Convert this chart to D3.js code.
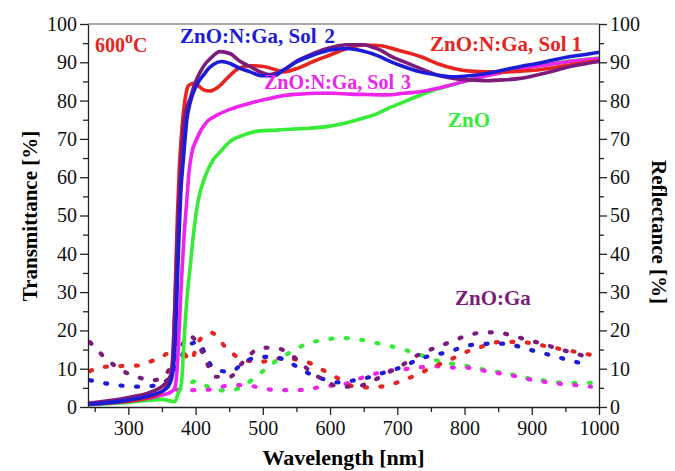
<!DOCTYPE html>
<html>
<head>
<meta charset="utf-8">
<script src="https://cdn.jsdelivr.net/npm/d3@7/dist/d3.min.js"></script>
<style>
  html, body { margin: 0; padding: 0; background: #fff; }
  svg { display: block; font-family: "Liberation Serif", "Times New Roman", serif; }
</style>
</head>
<body>
<svg id="chart" width="675" height="471"></svg>
<script>
// Transmittance spectra (solid) — [wavelength nm, T %]
const tSol1 = [[240,0.8],[300,1.5],[340,3],[358,5.5],[364,9],[367,15],[370,32],[373,50],[376,63],[379,71],[382,77],[385,81],[389,83.8],[393,84.3],[399,84.5],[406,83.6],[412,82.8],[421,82.5],[434,83.6],[449,86.2],[464,88.4],[481,89.1],[501,88.9],[518,88.1],[531,87.5],[551,88.4],[575,90.2],[600,91.9],[625,93.6],[650,94.5],[675,94.3],[700,93.2],[734,91.5],[759,89.7],[784,88.4],[808,87.7],[833,87.5],[858,87.5],[883,87.7],[908,88],[932,88.6],[957,89.3],[982,90],[1000,90.3]];
const tSol2 = [[240,0.7],[300,1.8],[335,3.1],[357,4.9],[365,7.9],[369,14.9],[372,28],[375,43],[378,56],[382,65],[387,75],[392,79.5],[397,82.3],[404,84.8],[412,86.7],[420,88.5],[427,89.5],[439,90.2],[451,89.7],[466,88.4],[481,87.5],[498,86.5],[516,86.5],[531,88],[551,90.2],[575,91.9],[600,93.2],[625,93.6],[650,92.9],[662,92.3],[675,91.4],[690,90.2],[709,88.9],[734,87.5],[759,86.7],[784,86.2],[808,86.5],[833,87.1],[858,88],[883,88.9],[908,89.7],[932,90.6],[957,91.5],[982,92.1],[1000,92.6]];
const tSol3 = [[240,0.8],[300,1.5],[350,3.1],[364,4],[369,4.9],[373,11],[376,22],[379,33],[383,45],[387,54],[390,61],[394,66],[402,70.1],[417,74.5],[432,76.2],[456,78],[481,79.3],[506,80.4],[531,81.3],[555,81.7],[580,81.9],[605,81.9],[630,81.7],[655,81.6],[684,81.5],[709,81.9],[734,82.3],[759,83.2],[784,84.3],[808,85.4],[833,86.5],[858,87.4],[883,88.3],[908,89],[932,89.6],[957,90.2],[982,90.7],[1000,91]];
const tZnO  = [[240,0.6],[300,1.2],[350,2],[362,1.6],[369,1.4],[374,3.5],[379,6.2],[382,14.9],[387,28],[392,36.6],[397,45.3],[404,54],[414,60.1],[426,64.5],[436,66.5],[451,69.3],[471,71],[496,72.1],[521,72.3],[546,72.6],[570,72.8],[595,73.2],[620,74],[645,75.2],[670,76.6],[684,77.8],[709,79.6],[734,81.4],[759,83],[784,84.2],[808,85.5],[833,86.7],[858,87.5],[883,88.4],[908,89.1],[932,89.7],[957,90.3],[982,90.8],[1000,91.1]];
const tZnOGa = [[240,1],[300,2.5],[335,4],[355,6.2],[364,8.8],[367,16.6],[370,30],[373,45],[376,57],[379,66],[382,73.6],[386,77.5],[392,80.6],[399,84.5],[407,87.5],[414,89.5],[422,91],[436,92.8],[451,92.3],[466,90.3],[481,88.9],[496,87.5],[511,86.8],[531,88],[551,90.4],[575,92.3],[600,93.8],[625,94.6],[650,94.6],[662,94],[675,93.2],[690,91.6],[709,90.2],[734,88.4],[759,86.7],[784,85.8],[808,85.4],[833,85.2],[858,85.4],[883,85.8],[908,86.7],[932,87.7],[957,88.9],[982,89.7],[1000,90.2]];

// Reflectance spectra (dotted) — [wavelength nm, R %]
const rSol1 = [[243,9.4],[265,10.5],[289,10.7],[312,10.8],[335,12],[356,13.8],[373,16.6],[383,14],[393,12.1],[404,17],[423,19.4],[446,15.4],[471,12.3],[498,11.8],[521,12.7],[545,12.5],[568,11.6],[592,9.4],[615,7.2],[637,5.3],[661,5.1],[684,5.6],[708,6.9],[731,8.6],[754,10.5],[778,12.3],[800,14.2],[825,15.7],[848,16.9],[871,17],[894,16.8],[918,16],[941,15.2],[965,14.4],[988,13.6]];
const rSol2 = [[243,7],[265,6.2],[289,5.6],[313,5.3],[335,5.5],[358,7],[375,11.5],[387,15.7],[404,17],[418,12.3],[428,9.9],[451,9.2],[475,12],[498,13.1],[521,12.9],[546,11],[568,8.8],[592,7.2],[615,6.4],[637,7],[661,7.9],[684,9.2],[708,10.5],[731,12.4],[754,13.6],[778,14.4],[800,15.9],[825,16.4],[847,16.6],[871,16.2],[894,15.1],[918,14],[941,12.9],[965,11.8],[988,10.8]];
const rSol3 = [[372,4.5],[379,4.4],[404,4.4],[428,4.7],[451,5.7],[476,5.7],[498,4.9],[522,4.4],[546,4.4],[568,4.6],[592,5.5],[615,5.7],[637,7],[661,8.4],[684,9.4],[708,9.8],[731,10.3],[754,10.7],[778,10.3],[800,10.3],[825,9.6],[848,8.9],[871,8.2],[894,7.3],[918,6.6],[941,6.1],[965,5.7],[988,5.3]];
const rZnO  = [[375,4.5],[387,5.8],[402,6.8],[416,5.5],[429,4.4],[451,4.3],[475,6],[496,8.8],[518,11.8],[542,14.4],[567,16.6],[590,17.5],[615,18],[637,17.8],[661,17],[682,16.2],[708,15.1],[731,13.8],[754,12.4],[778,11.4],[800,10.8],[825,9.9],[848,9.2],[871,8.5],[894,7.5],[918,6.9],[941,6.4],[965,6.3],[988,6.3]];
const rZnOGa = [[243,16.9],[264,13.1],[289,9.7],[312,7.9],[337,7],[355,8.5],[372,13],[390,18.6],[404,16.4],[417,11.4],[429,7.9],[451,7.9],[471,11.8],[498,15.5],[522,15.3],[546,13.1],[568,9.7],[592,6.9],[615,5.3],[637,5.3],[661,6.6],[684,8.8],[708,11],[731,13.6],[754,15.3],[778,16.9],[800,18.4],[825,19.4],[848,19.5],[871,18.6],[894,17.5],[918,16.4],[941,15.1],[965,14],[988,12.7]];

// Axis settings and labels
const xDomain = [240, 1000];
const yDomain = [0, 100];
const xTickValues = [300, 400, 500, 600, 700, 800, 900, 1000];
const xMinorTicks = [250, 350, 450, 550, 650, 750, 850, 950];
const yTickValues = [0, 10, 20, 30, 40, 50, 60, 70, 80, 90, 100];
const yMinorTicks = [5, 15, 25, 35, 45, 55, 65, 75, 85, 95];
const xTitle = "Wavelength [nm]";
const yTitleLeft = "Transmittance [%]";
const yTitleRight = "Reflectance [%]";

const colors = {
  sol1: "#e8241f",
  sol2: "#1c1cd8",
  sol3: "#ee24ee",
  zno: "#36ec36",
  znoga: "#7d1b7d"
};

const svg = d3.select("#chart");
const m = { left: 88, right: 76, top: 24, bottom: 64 };
const W = 675, H = 471;
const x = d3.scaleLinear().domain(xDomain).range([m.left, W - m.right]);
const y = d3.scaleLinear().domain(yDomain).range([H - m.bottom, m.top]);

const line = d3.line().x(d => x(d[0])).y(d => y(d[1])).curve(d3.curveMonotoneX);

// Reflectance: dotted lines
const refl = [
  [rZnO, colors.zno],
  [rSol3, colors.sol3],
  [rSol1, colors.sol1],
  [rSol2, colors.sol2],
  [rZnOGa, colors.znoga]
];
refl.forEach(([data, c]) => {
  svg.append("path")
    .datum(data)
    .attr("d", line)
    .attr("fill", "none")
    .attr("stroke", c)
    .attr("stroke-width", 4.2)
    .attr("stroke-linecap", "round")
    .attr("stroke-dasharray", "2 13.5");
});

// Transmittance: solid lines
const trans = [
  [tZnO, colors.zno],
  [tSol3, colors.sol3],
  [tSol1, colors.sol1],
  [tZnOGa, colors.znoga],
  [tSol2, colors.sol2]
];
trans.forEach(([data, c]) => {
  svg.append("path")
    .datum(data)
    .attr("d", line)
    .attr("fill", "none")
    .attr("stroke", c)
    .attr("stroke-width", 3.6)
    .attr("stroke-linejoin", "round");
});

// Frame top line
svg.append("line")
  .attr("x1", m.left).attr("x2", W - m.right)
  .attr("y1", m.top).attr("y2", m.top)
  .attr("stroke", "#555").attr("stroke-width", 1.2);

// Axes
const fs = 20;
function styleAxis(g) {
  g.selectAll("path.domain").attr("stroke", "#222").attr("stroke-width", 1.3);
  g.selectAll(".tick line").attr("stroke", "#222").attr("stroke-width", 1.3);
  g.selectAll(".tick text").attr("font-size", fs).attr("fill", "#111")
    .attr("font-family", "'Liberation Serif', 'Times New Roman', serif");
}

const xAxis = svg.append("g")
  .attr("transform", `translate(0,${y(0)})`)
  .call(d3.axisBottom(x).tickValues(xTickValues).tickSize(8).tickPadding(6).tickSizeOuter(0).tickFormat(d3.format("d")));
styleAxis(xAxis);
const xMinor = svg.append("g")
  .attr("transform", `translate(0,${y(0)})`)
  .call(d3.axisBottom(x).tickValues(xMinorTicks).tickSize(5).tickFormat("").tickSizeOuter(0));
styleAxis(xMinor);
xMinor.select("path.domain").remove();

const yLeft = svg.append("g")
  .attr("transform", `translate(${m.left},0)`)
  .call(d3.axisLeft(y).tickValues(yTickValues).tickSize(8).tickPadding(3).tickSizeOuter(0));
styleAxis(yLeft);
const yLeftMinor = svg.append("g")
  .attr("transform", `translate(${m.left},0)`)
  .call(d3.axisLeft(y).tickValues(yMinorTicks).tickSize(5).tickFormat("").tickSizeOuter(0));
styleAxis(yLeftMinor);
yLeftMinor.select("path.domain").remove();

const yRight = svg.append("g")
  .attr("transform", `translate(${W - m.right},0)`)
  .call(d3.axisRight(y).tickValues(yTickValues).tickSize(8).tickPadding(3).tickSizeOuter(0));
styleAxis(yRight);
const yRightMinor = svg.append("g")
  .attr("transform", `translate(${W - m.right},0)`)
  .call(d3.axisRight(y).tickValues(yMinorTicks).tickSize(5).tickFormat("").tickSizeOuter(0));
styleAxis(yRightMinor);
yRightMinor.select("path.domain").remove();

// Axis titles
svg.append("text")
  .attr("x", (m.left + W - m.right) / 2).attr("y", 465)
  .attr("text-anchor", "middle")
  .attr("font-weight", "bold").attr("font-size", 22)
  .text(xTitle);
svg.append("text")
  .attr("transform", `translate(37,216) rotate(-90)`)
  .attr("text-anchor", "middle")
  .attr("font-weight", "bold").attr("font-size", 21)
  .text(yTitleLeft);
svg.append("text")
  .attr("transform", `translate(652,232) rotate(90)`)
  .attr("text-anchor", "middle")
  .attr("font-weight", "bold").attr("font-size", 21)
  .text(yTitleRight);

// Series labels (the trailing number follows after a small gap)
const labels = [
  { t: "ZnO:N:Ga, Sol", n: "2", gap: 8, x: 180, y: 43, size: 21, c: colors.sol2 },
  { t: "ZnO:N:Ga, Sol", n: "1", gap: 5, x: 430, y: 51, size: 21, c: colors.sol1 },
  { t: "ZnO:N:Ga, Sol", n: "3", gap: 7, x: 264, y: 89, size: 20, c: colors.sol3 },
  { t: "ZnO", n: "", gap: 0, x: 448, y: 127, size: 21, c: colors.zno },
  { t: "ZnO:Ga", n: "", gap: 0, x: 455, y: 305, size: 21, c: colors.znoga }
];
labels.forEach(l => {
  const txt = svg.append("text")
    .attr("x", l.x).attr("y", l.y)
    .attr("fill", l.c)
    .attr("font-weight", "bold").attr("font-size", l.size);
  txt.append("tspan").text(l.t);
  if (l.n) txt.append("tspan").attr("dx", l.gap).text(l.n);
});

// Annealing temperature
const temp = svg.append("text")
  .attr("x", 95).attr("y", 52)
  .attr("fill", colors.sol1)
  .attr("font-weight", "bold").attr("font-size", 20);
temp.append("tspan").text("600");
temp.append("tspan").attr("dy", -9).attr("font-size", 16).text("o");
temp.append("tspan").attr("dy", 9).text("C");
</script>
</body>
</html>
